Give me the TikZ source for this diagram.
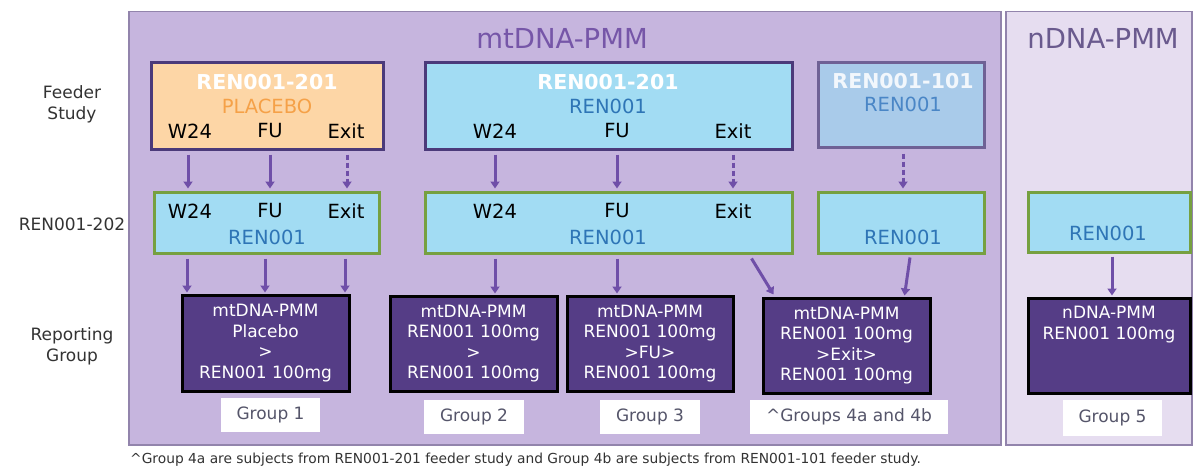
\documentclass[tikz,border=0pt]{standalone}
\usepackage{fontspec}
\setmainfont{DejaVu Sans}
\usetikzlibrary{arrows.meta,calc}

\definecolor{panelA}{HTML}{C6B5DE}
\definecolor{panelB}{HTML}{E6DDF0}
\definecolor{panelEdge}{HTML}{9284AC}
\definecolor{feedEdge}{HTML}{4B3A7A}
\definecolor{orangeFill}{HTML}{FDD6A6}
\definecolor{blueFill}{HTML}{A2DCF3}
\definecolor{paleBlue}{HTML}{A9CBEA}
\definecolor{greenEdge}{HTML}{76A040}
\definecolor{repFill}{HTML}{553D86}
\definecolor{arrowCol}{HTML}{6F4FA8}
\definecolor{txtBlue}{HTML}{2E75B6}
\definecolor{txtPaleBlue}{HTML}{4A86C6}
\definecolor{txtOrange}{HTML}{F5A148}
\definecolor{titleCol}{HTML}{7656A8}
\definecolor{titleColB}{HTML}{6A5A8E}
\definecolor{labelCol}{HTML}{333333}
\definecolor{groupCol}{HTML}{55556A}

\tikzset{
  panel/.style={draw=panelEdge, line width=1.5pt, inner sep=0pt, anchor=north west},
  feedbox/.style={draw=feedEdge, line width=3pt, inner sep=0pt},
  studybox/.style={draw=greenEdge, line width=3pt, fill=blueFill, inner sep=0pt},
  repbox/.style={draw=black, line width=3pt, fill=repFill, inner sep=0pt, text=white,
    align=center, font=\fontsize{17}{20.5}\selectfont},
  groupbox/.style={fill=white, inner sep=0pt, text=groupCol, font=\fontsize{17}{20}\selectfont},
  txt/.style={inner sep=0pt, font=\fontsize{19.5}{22}\selectfont},
  boldtxt/.style={inner sep=0pt, text=white, font=\fontsize{20.5}{24}\selectfont\bfseries},
  sidelabel/.style={inner sep=0pt, text=labelCol, align=center, font=\fontsize{17}{21}\selectfont},
  flow/.style={draw=arrowCol, line width=3pt, -{Triangle[width=9pt,length=7pt]}},
  flowdash/.style={flow, dash pattern=on 5pt off 3pt},
}

\begin{document}
\begin{tikzpicture}[x=1pt,y=-1pt]
\useasboundingbox (0,0) rectangle (1193,468);
\fill[white] (0,0) rectangle (1193,468);

% panels
\node[panel, fill=panelA, minimum width=872pt, minimum height=433pt] (pm) at (128,11) {};
\node[panel, fill=panelB, minimum width=186pt, minimum height=433pt] (pn) at (1005,11) {};
\node[inner sep=0pt, text=titleCol, font=\fontsize{27.5}{32}\selectfont] (tm) at (562,38) {mtDNA-PMM};
\node[inner sep=0pt, text=titleColB, font=\fontsize{27.5}{32}\selectfont] (tn) at (1103,38) {nDNA-PMM};

% side labels
\node[sidelabel] (lf) at (72,104) {Feeder\\Study};
\node[sidelabel] (ls) at (72,224) {REN001-202};
\node[sidelabel] (lr) at (72,346) {Reporting\\Group};

% feeder studies
\node[feedbox, fill=orangeFill, minimum width=232pt, minimum height=86pt] (fpl) at (267,106) {};
\node[boldtxt] (fplT) at (267,82) {REN001-201};
\node[txt, text=txtOrange] (fplS) at (267,106) {PLACEBO};
\node[txt] (fplW) at (190,131) {W24};
\node[txt] (fplF) at (270,131) {FU};
\node[txt] (fplE) at (346,131) {Exit};

\node[feedbox, fill=blueFill, minimum width=367pt, minimum height=86pt] (fmd) at (608.5,106) {};
\node[boldtxt] (fmdT) at (608,82) {REN001-201};
\node[txt, text=txtBlue] (fmdS) at (608,106) {REN001};
\node[txt] (fmdW) at (495,131) {W24};
\node[txt] (fmdF) at (617,131) {FU};
\node[txt] (fmdE) at (733,131) {Exit};

\node[feedbox, fill=paleBlue, draw=feedEdge!80!white, minimum width=166pt, minimum height=84pt] (frt) at (901,105) {};
\node[boldtxt, text=white!85!paleBlue] (frtT) at (903,81) {REN001-101};
\node[txt, text=txtPaleBlue] (frtS) at (903,104) {REN001};

% REN001-202 study boxes
\node[studybox, minimum width=225pt, minimum height=61pt] (sl) at (266.5,222.5) {};
\node[txt] (slW) at (190,211) {W24};
\node[txt] (slF) at (270,211) {FU};
\node[txt] (slE) at (346,211) {Exit};
\node[txt, text=txtBlue] (slS) at (267,237) {REN001};

\node[studybox, minimum width=367pt, minimum height=61pt] (sm) at (608.5,222.5) {};
\node[txt] (smW) at (495,211) {W24};
\node[txt] (smF) at (617,211) {FU};
\node[txt] (smE) at (733,211) {Exit};
\node[txt, text=txtBlue] (smS) at (608,237) {REN001};

\node[studybox, minimum width=166pt, minimum height=61pt] (sr) at (901,222.5) {};
\node[txt, text=txtBlue] (srS) at (903,237) {REN001};

\node[studybox, minimum width=162pt, minimum height=60pt] (sn) at (1109,222) {};
\node[txt, text=txtBlue] (snS) at (1108,233) {REN001};

% reporting groups
\node[repbox, minimum width=167pt, minimum height=96pt] (r1) at (265.5,343) {mtDNA-PMM\\Placebo\\>\\REN001 100mg};
\node[repbox, minimum width=167pt, minimum height=95pt] (r2) at (473.5,343.5) {mtDNA-PMM\\REN001 100mg\\>\\REN001 100mg};
\node[repbox, minimum width=166pt, minimum height=95pt] (r3) at (650,343.5) {mtDNA-PMM\\REN001 100mg\\>FU>\\REN001 100mg};
\node[repbox, minimum width=167pt, minimum height=95pt] (r4) at (846.5,345.5) {mtDNA-PMM\\REN001 100mg\\>Exit>\\REN001 100mg};
\node[repbox, minimum width=162pt, minimum height=95pt] (r5) at (1109,345.5) {};
\node[inner sep=0pt, text=white, align=center, font=\fontsize{17}{20.5}\selectfont, anchor=north] (r5T) at (1109,306) {nDNA-PMM\\REN001 100mg};

% group labels
\node[groupbox, minimum width=99pt, minimum height=34pt] (g1) at (270.5,415) {Group 1};
\node[groupbox, minimum width=100pt, minimum height=34pt] (g2) at (474,417) {Group 2};
\node[groupbox, minimum width=100pt, minimum height=34pt] (g3) at (650,417) {Group 3};
\node[groupbox, minimum width=198pt, minimum height=34pt] (g4) at (849,417) {\textasciicircum Groups 4a and 4b};
\node[groupbox, minimum width=99pt, minimum height=36pt] (g5) at (1112.5,418) {Group 5};

% feeder -> REN001-202
\draw[flow]     ($(fpl.south -| fplW)+(-2,4)$) -- ($(sl.north -| fplW)+(-2,-2)$);
\draw[flow]     ($(fpl.south -| fplF)+(0,4)$) -- ($(sl.north -| fplF)+(0,-2)$);
\draw[flowdash] ($(fpl.south -| fplE)+(1,4)$) -- ($(sl.north -| fplE)+(1,-2)$);
\draw[flow]     ($(fmd.south -| fmdW)+(0,4)$) -- ($(sm.north -| fmdW)+(0,-2)$);
\draw[flow]     ($(fmd.south -| fmdF)+(0,4)$) -- ($(sm.north -| fmdF)+(0,-2)$);
\draw[flowdash] ($(fmd.south -| fmdE)+(0,4)$) -- ($(sm.north -| fmdE)+(0,-2)$);
\draw[flowdash] ($(frt.south -| frtT)+(0,5)$) -- ($(sr.north -| frtT)+(0,-2)$);

% REN001-202 -> reporting groups
\draw[flow] ($(sl.south -| slW)+(-3,4)$) -- ($(r1.north -| slW)+(-3,-1)$);
\draw[flow] ($(sl.south -| slS)+(-2,4)$) -- ($(r1.north -| slS)+(-2,-1)$);
\draw[flow] ($(sl.south -| slE)+(-1,4)$) -- ($(r1.north -| slE)+(-1,-1)$);
\draw[flow] ($(sm.south -| smW)+(0,4)$) -- ($(r2.north -| smW)+(0,-1)$);
\draw[flow] ($(sm.south -| smF)+(0,4)$) -- ($(r3.north -| smF)+(0,-1)$);
\draw[flow] ($(sm.south east)+(-42,4)$) -- ($(r4.north west)+(12,-2)$);
\draw[flow] ($(sr.south)+(9,3)$) -- ($(r4.north east)+(-27,-1)$);
\draw[flow] ($(sn.south)+(3,3)$) -- ($(r5.north)+(3,-1)$);

% footnote
\node[inner sep=0pt, anchor=west, text=labelCol, font=\fontsize{13.8}{16}\selectfont] (fn) at (130,460)
  {\textasciicircum Group 4a are subjects from REN001-201 feeder study and Group 4b are subjects from REN001-101 feeder study.};
\end{tikzpicture}
\end{document}
